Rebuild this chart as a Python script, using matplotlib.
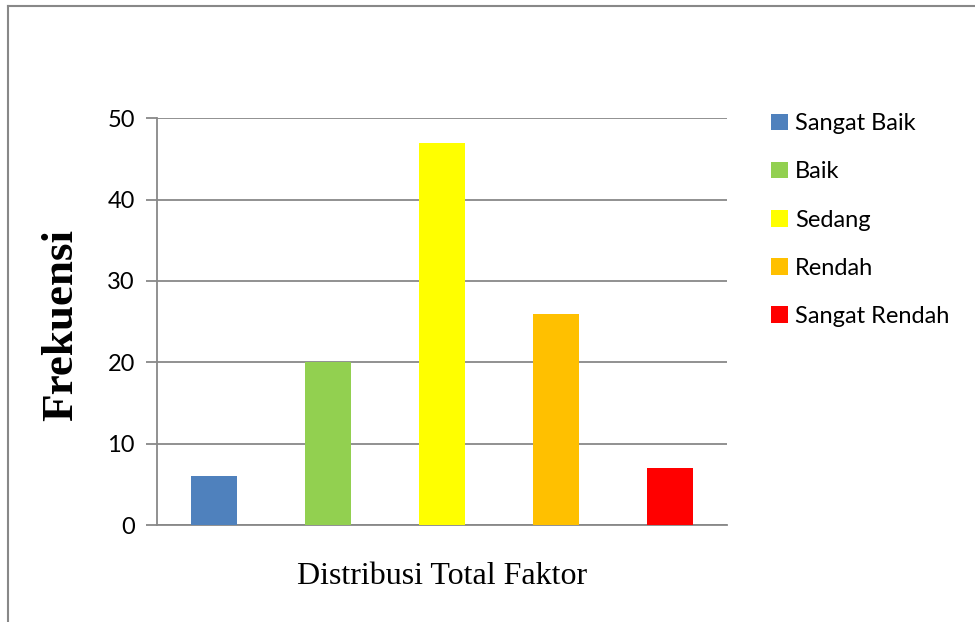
import matplotlib
matplotlib.use("Agg")
import matplotlib.pyplot as plt
from matplotlib.lines import Line2D
from matplotlib.patches import Patch

# Data
categories = ["Sangat Baik", "Baik", "Sedang", "Rendah", "Sangat Rendah"]
values = [6, 20, 47, 26, 7]
colors = ["#4F81BD", "#92D050", "#FFFF00", "#FFC000", "#FF0000"]
y_ticks = [0, 10, 20, 30, 40, 50]

W, H = 975, 622
fig = plt.figure(figsize=(W / 100, H / 100), dpi=100)
ax = fig.add_axes([157 / W, 1 - 525 / H, 570 / W, 406.7 / H])

grid_c = "#888888"
x = range(len(categories))
ax.bar(x, values, width=0.41, color=colors, zorder=3)

ax.set_xlim(-0.5, len(categories) - 0.5)
ax.set_ylim(0, 50)
ax.set_yticks(y_ticks)
ax.set_xticks([])
ax.yaxis.grid(True, color=grid_c, linewidth=1.3, zorder=0)
ax.tick_params(axis="y", length=8, width=1.3, color=grid_c, pad=8)
for lab in ax.get_yticklabels():
    lab.set_family("Lato")
    lab.set_fontsize(17)

for side in ["top", "right"]:
    ax.spines[side].set_visible(False)
for side in ["left", "bottom"]:
    ax.spines[side].set_color(grid_c)
    ax.spines[side].set_linewidth(1.3)

# y title placed by hand like the original
fig.text(61 / W, 1 - 325 / H, "Frekuensi", family="Liberation Serif",
         fontweight="bold", fontsize=32.5, rotation=90, ha="center", va="center")
ax.set_xlabel("Distribusi Total Faktor", family="Liberation Serif",
              fontsize=23, labelpad=27)

handles = [Patch(facecolor=c, edgecolor="none") for c in colors]
fig.legend(handles, categories, loc="upper left",
           bbox_to_anchor=(750 / W, 1 - 92 / H), frameon=False,
           prop={"family": "Lato", "size": 17}, handlelength=0.7,
           handleheight=0.7, handletextpad=0.3, labelspacing=1.15)

# outer chart border (left and top edges visible)
fig.add_artist(Line2D([8 / W, 8 / W], [0, 1 - 6 / H], color=grid_c, lw=1.5))
fig.add_artist(Line2D([8 / W, 1], [1 - 6 / H, 1 - 6 / H], color=grid_c, lw=1.5))

fig.savefig("out.png", dpi=100)
